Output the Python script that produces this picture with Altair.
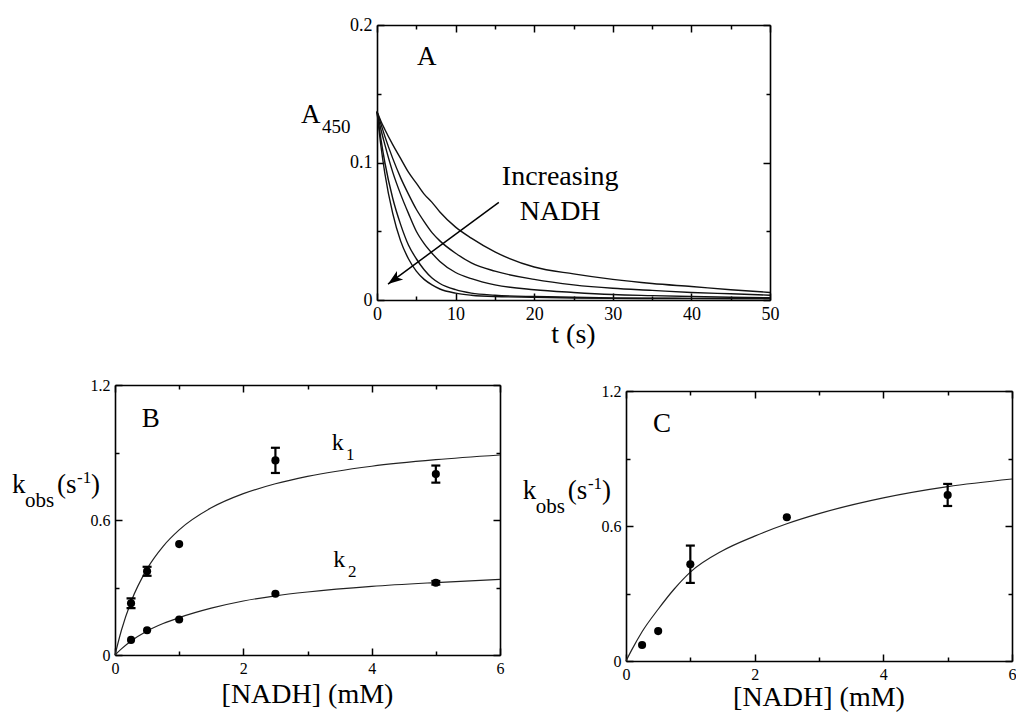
import math

import altair as alt
import pandas as pd

W, H = 1016, 713
SERIF = "Liberation Serif"
INK = "#000000"

# ---------------- Panel A: A450 traces after mixing ----------------
t_s = [0, 0.5, 1, 2, 3, 4, 5, 6, 7, 8, 10, 12, 15, 20, 25, 30, 35, 40, 45, 50]
a450_1 = [0.137, 0.130, 0.124, 0.113, 0.103, 0.093, 0.085, 0.077, 0.071, 0.064,
          0.053, 0.045, 0.035, 0.024, 0.019, 0.015, 0.012, 0.0098, 0.0075, 0.0055]
a450_2 = [0.137, 0.128, 0.119, 0.103, 0.089, 0.077, 0.066, 0.057, 0.049, 0.043,
          0.034, 0.027, 0.021, 0.015, 0.011, 0.0085, 0.007, 0.0055, 0.0045, 0.0035]
a450_3 = [0.137, 0.124, 0.113, 0.093, 0.077, 0.063, 0.050, 0.041, 0.034, 0.028,
          0.020, 0.0155, 0.011, 0.0075, 0.0055, 0.004, 0.0032, 0.0025, 0.002, 0.0017]
a450_4 = [0.137, 0.117, 0.100, 0.074, 0.055, 0.040, 0.030, 0.022, 0.016, 0.012,
          0.0075, 0.005, 0.0035, 0.0025, 0.002, 0.0015, 0.0013, 0.0012, 0.0011, 0.001]
a450_5 = [0.137, 0.112, 0.092, 0.063, 0.043, 0.030, 0.021, 0.015, 0.011, 0.008,
          0.005, 0.0035, 0.0025, 0.002, 0.0015, 0.0012, 0.0011, 0.001, 0.001, 0.001]
traces = [a450_1, a450_2, a450_3, a450_4, a450_5]

arrow_t = [15.5, 1.4]
arrow_a = [0.071, 0.0116]

# ---------------- Panel B: k1 and k2 vs [NADH] ----------------
nadh_mM = [0.25, 0.5, 1.0, 2.5, 5.0]
k1_obs = [0.230, 0.372, 0.493, 0.865, 0.804]
k1_err = [0.022, 0.020, 0.0, 0.056, 0.038]
k2_obs = [0.067, 0.110, 0.158, 0.272, 0.321]
k2_err = [0.0, 0.0, 0.0, 0.0, 0.008]

fit_nadh = [0, 0.1, 0.25, 0.5, 0.75, 1, 1.5, 2, 2.5, 3, 4, 5, 6]
k1_fit = [0, 0.110, 0.237, 0.383, 0.483, 0.556, 0.654, 0.717, 0.761, 0.794, 0.839, 0.868, 0.889]
k2_fit = [0, 0.027, 0.062, 0.107, 0.140, 0.166, 0.208, 0.240, 0.263, 0.280, 0.305, 0.322, 0.336]

# ---------------- Panel C: kobs vs [NADH] ----------------
kc_obs = [0.071, 0.133, 0.430, 0.639, 0.738]
kc_err = [0.0, 0.0, 0.083, 0.0, 0.049]
kc_fit = [0, 0.055, 0.130, 0.230, 0.320, 0.395, 0.490, 0.555, 0.610, 0.655, 0.725, 0.775, 0.809]

# Panel geometry: data domains and the pixel ranges they map onto.
PANELS = {
    "A": dict(xdom=[0, 50], ydom=[0, 0.2], xpx=[377, 770], ypx=[300, 25],
              xlab=[0, 10, 20, 30, 40, 50], xminor=[5, 15, 25, 35, 45],
              ylab=[0, 0.1, 0.2], yminor=[0.05, 0.15], font=18),
    "B": dict(xdom=[0, 6], ydom=[0, 1.2], xpx=[115, 500], ypx=[655, 385],
              xlab=[0, 2, 4, 6], xminor=[1, 3, 5],
              ylab=[0, 0.6, 1.2], yminor=[0.3, 0.9], font=16),
    "C": dict(xdom=[0, 6], ydom=[0, 1.2], xpx=[626, 1012], ypx=[661, 391],
              xlab=[0, 2, 4, 6], xminor=[1, 3, 5],
              ylab=[0, 0.6, 1.2], yminor=[0.3, 0.9], font=16),
}
MAJOR, MINOR = 7, 4
FRAME_W = 1.6
LABEL_FMT = ".6~g"


def xscale(p):
    c = PANELS[p]
    return alt.Scale(domain=c["xdom"], range=c["xpx"], nice=False, zero=False)


def yscale(p):
    c = PANELS[p]
    return alt.Scale(domain=c["ydom"], range=c["ypx"], nice=False, zero=False)


def enc_x(p, field, axis=None):
    if axis is None:
        return alt.X(f"{field}:Q", scale=xscale(p), axis=None)
    return alt.X(f"{field}:Q", scale=xscale(p), axis=axis)


def enc_y(p, field, axis=None):
    if axis is None:
        return alt.Y(f"{field}:Q", scale=yscale(p), axis=None)
    return alt.Y(f"{field}:Q", scale=yscale(p), axis=axis)


def label_axis(orient, values, offset, size):
    return alt.Axis(orient=orient, offset=offset, values=values, format=LABEL_FMT,
                    ticks=False, tickSize=0, grid=False, domain=True,
                    domainColor=INK, domainWidth=FRAME_W, labels=True,
                    labelFont=SERIF, labelFontSize=size, labelColor=INK,
                    labelPadding=5, labelFlush=False, labelOverlap=False, title="")


def edge_axis(orient, offset):
    return alt.Axis(orient=orient, offset=offset, ticks=False, labels=False,
                    grid=False, domain=True, domainColor=INK,
                    domainWidth=FRAME_W, title="")


def tick_axis(orient, values, offset, length):
    return alt.Axis(orient=orient, offset=offset, values=values, ticks=True,
                    tickSize=length, tickWidth=1.5, tickColor=INK,
                    labels=False, domain=False, grid=False, title="")


def frame(p):
    """Boxed frame with inward ticks on all four sides, plus tick labels."""
    c = PANELS[p]
    xl, xr = c["xpx"]
    yb, yt = c["ypx"]
    corners = pd.DataFrame({"fx": c["xdom"], "fy": c["ydom"]})
    base = alt.Chart(corners).mark_point(opacity=0)

    def host(xaxis, yaxis):
        return base.encode(x=enc_x(p, "fx", xaxis), y=enc_y(p, "fy", yaxis))

    layers = [
        host(label_axis("bottom", c["xlab"], yb - H, c["font"]),
             label_axis("left", c["ylab"], -xl, c["font"])),
        host(edge_axis("top", -yt), edge_axis("right", xr - W)),
    ]
    for vx, vy, L in [(c["xlab"], c["ylab"], MAJOR), (c["xminor"], c["yminor"], MINOR)]:
        layers.append(host(tick_axis("bottom", vx, yb - L - H, L),
                           tick_axis("left", vy, -(xl + L), L)))
        layers.append(host(tick_axis("top", vx, -(yt + L), L),
                           tick_axis("right", vy, xr - L - W, L)))
    return layers


def note(p, x, y, text, size, align="left"):
    df = pd.DataFrame({"nx": [x], "ny": [y], "txt": [text]})
    return alt.Chart(df).mark_text(font=SERIF, fontSize=size, align=align,
                                   baseline="alphabetic", color=INK).encode(
        x=enc_x(p, "nx"), y=enc_y(p, "ny"), text="txt:N")


def to_px(p, x, y):
    c = PANELS[p]
    (x0, x1), (y0, y1) = c["xdom"], c["ydom"]
    (px0, px1), (py0, py1) = c["xpx"], c["ypx"]
    return (px0 + (x - x0) / (x1 - x0) * (px1 - px0),
            py0 + (y - y0) / (y1 - y0) * (py1 - py0))


def kinetics(p, k, err, size=66):
    pts = pd.DataFrame({"c": nadh_mM, "k": k, "e": err})
    bars = pts[pts["e"] > 0].copy()
    bars["lo"] = bars["k"] - bars["e"]
    bars["hi"] = bars["k"] + bars["e"]
    caps = pd.concat([
        pd.DataFrame({"c": bars["c"], "v": bars["lo"]}),
        pd.DataFrame({"c": bars["c"], "v": bars["hi"]}),
    ])
    out = []
    if len(bars):
        out.append(alt.Chart(bars).mark_rule(color=INK, strokeWidth=2.2).encode(
            x=enc_x(p, "c"), y=enc_y(p, "lo"), y2="hi:Q"))
        out.append(alt.Chart(caps).mark_tick(orient="horizontal", size=9,
                                             thickness=2.2, color=INK, opacity=1).encode(
            x=enc_x(p, "c"), y=enc_y(p, "v")))
    out.append(alt.Chart(pts).mark_circle(size=size, color=INK, opacity=1).encode(
        x=enc_x(p, "c"), y=enc_y(p, "k")))
    return out


def fit_line(p, values):
    df = pd.DataFrame({"c": fit_nadh, "k": values})
    return alt.Chart(df).mark_line(color="#222222", strokeWidth=1.2,
                                   interpolate="monotone").encode(
        x=enc_x(p, "c"), y=enc_y(p, "k"))


def kobs_title(p):
    return [
        note(p, -1.605, 0.72, "k", 27),
        note(p, -1.403, 0.658, "obs", 21),
        note(p, -0.904, 0.72, "(s", 27),
        note(p, -0.592, 0.764, "-1", 17),
        note(p, -0.375, 0.72, ")", 27),
    ]


layers = []

# ---- A ----
layers += frame("A")
trace_df = pd.DataFrame([
    {"t": t, "a": v, "trace": i}
    for i, series in enumerate(traces)
    for t, v in zip(t_s, series)
])
layers.append(alt.Chart(trace_df).mark_line(color="#111111", strokeWidth=1.4,
                                            interpolate="monotone").encode(
    x=enc_x("A", "t"), y=enc_y("A", "a"), detail="trace:N"))

arrow_df = pd.DataFrame({"t": arrow_t, "a": arrow_a})
layers.append(alt.Chart(arrow_df).mark_line(color=INK, strokeWidth=1.5).encode(
    x=enc_x("A", "t"), y=enc_y("A", "a")))
sx, sy = to_px("A", arrow_t[0], arrow_a[0])
ex, ey = to_px("A", arrow_t[1], arrow_a[1])
head_angle = math.degrees(math.atan2(ey - sy, ex - sx)) % 360
layers.append(alt.Chart(arrow_df.iloc[[1]]).mark_point(
    shape="M0,0 L-2,-0.7 L-1.5,0 L-2,0.7 Z", angle=head_angle, size=225,
    filled=True, color=INK, opacity=1, strokeWidth=0).encode(
    x=enc_x("A", "t"), y=enc_y("A", "a")))

layers += [
    note("A", 5.1, 0.171, "A", 27),
    note("A", 23.3, 0.0836, "Increasing", 28, "center"),
    note("A", 23.3, 0.0582, "NADH", 28, "center"),
    note("A", 25, -0.0313, "t (s)", 28, "center"),
    note("A", -9.67, 0.1287, "A", 27),
    note("A", -7.0, 0.1215, "450", 19),
]

# ---- B ----
layers += frame("B")
layers += [fit_line("B", k1_fit), fit_line("B", k2_fit)]
layers += kinetics("B", k1_obs, k1_err)
layers += kinetics("B", k2_obs, k2_err)
layers += [
    note("B", 0.416, 1.015, "B", 27),
    note("B", 3.377, 0.911, "k", 24),
    note("B", 3.60, 0.867, "1", 17),
    note("B", 3.40, 0.392, "k", 24),
    note("B", 3.63, 0.348, "2", 17),
    note("B", 3.0, -0.213, "[NADH] (mM)", 28, "center"),
]
layers += kobs_title("B")

# ---- C ----
layers += frame("C")
layers.append(fit_line("C", kc_fit))
layers += kinetics("C", kc_obs, kc_err)
layers += [
    note("C", 0.42, 1.019, "C", 27),
    note("C", 3.0, -0.2, "[NADH] (mM)", 28, "center"),
]
layers += kobs_title("C")

chart = alt.layer(*layers).resolve_scale(
    x="independent", y="independent"
).properties(
    width=W, height=H, padding=0,
    autosize=alt.AutoSizeParams(type="none"),
    background="white",
).configure_view(strokeWidth=0)

chart.save("out.html", embed_options={"renderer": "svg", "actions": False})
